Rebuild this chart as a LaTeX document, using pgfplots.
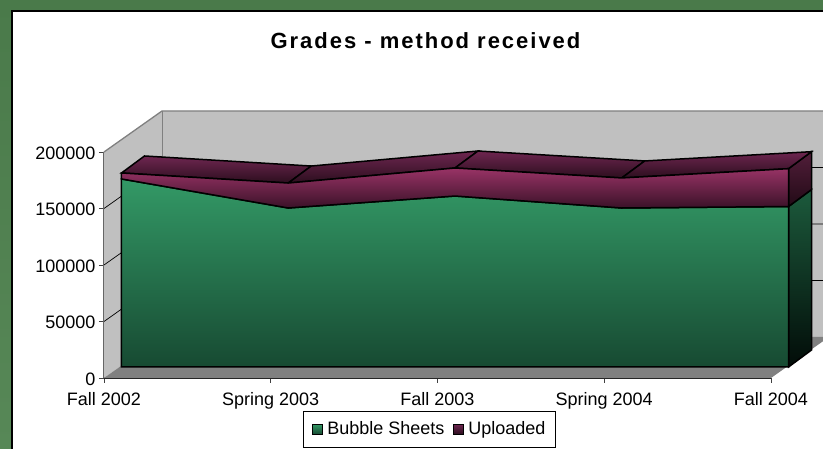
\documentclass[border=0pt]{standalone}
\usepackage{pgfplots}
\usepackage{pgfplotstable}
\usepackage{fontspec}
\setmainfont{Liberation Sans}
\pgfplotsset{compat=1.18}
\definecolor{bgtop}{HTML}{4A7A4A}
\definecolor{bgbot}{HTML}{578857}
\definecolor{wall}{HTML}{C0C0C0}
\definecolor{floorc}{HTML}{808080}
\definecolor{gtop}{HTML}{339966}
\definecolor{gbot}{HTML}{174A32}
\definecolor{ptop}{HTML}{993366}
\definecolor{pbot}{HTML}{3A1228}
\definecolor{ttop}{HTML}{6E2650}
\definecolor{tbot}{HTML}{2C0E1E}
\definecolor{stop}{HTML}{521E3A}
\definecolor{sbot}{HTML}{220A16}
\definecolor{gstop}{HTML}{1C5A3C}
\definecolor{gsbot}{HTML}{020C08}
% x = category, v = value, dx/dy = depth offset in the oblique projection (points)
\newcommand{\poly}[2]{\addplot[forget plot,#1] table[x expr=\thisrow{x}+\thisrow{dx}/166.75,y expr=\thisrow{v}+\thisrow{dy}*884.96,row sep=crcr]{x v dx dy\\ #2\\}--cycle;}
\newcommand{\oline}[2]{\addplot[forget plot,#1] table[x expr=\thisrow{x}+\thisrow{dx}/166.75,y expr=\thisrow{v}+\thisrow{dy}*884.96,row sep=crcr]{x v dx dy\\ #2\\};}
\begin{document}
\begin{tikzpicture}[x=1pt,y=1pt]
\path[use as bounding box,clip] (0pt,0pt) rectangle (823pt,449pt);
\shade[top color=bgtop,bottom color=bgbot] (0pt,0pt) rectangle (823pt,449pt);
\fill[white] (12pt,-2pt) rectangle (830pt,438pt);
\draw[black,line width=2pt] (12pt,-2pt)--(12pt,438pt)--(830pt,438pt);
\node[font=\bfseries\fontsize{22}{24}\selectfont,anchor=base] at (425.5pt,400pt) {\addfontfeature{LetterSpace=9}Grades - method received};
\begin{axis}[
  at={(104pt,71pt)},anchor=south west,scale only axis,width=667pt,height=226pt,
  xmin=0,xmax=4,ymin=0,ymax=200000,clip=false,
  axis x line*=bottom,axis y line*=left,
  x axis line style={draw=black!85,line width=1.5pt,-},
  y axis line style={draw=floorc!70!black,line width=1pt,-},
  xtick={0,1,2,3,4},xticklabels={Fall 2002,Spring 2003,Fall 2003,Spring 2004,Fall 2004},
  ytick={0,50000,100000,150000,200000},
  scaled y ticks=false,
  /pgf/number format/assume math mode=true,
  yticklabel={\pgfmathprintnumber[fixed,precision=0,set thousands separator={}]{\tick}},
  tick style={draw=black!75,line width=0.8pt},
  tick align=outside,major tick length=5pt,
  ticklabel style={font=\fontsize{18}{20}\selectfont},
  xticklabel style={yshift=-6pt},
  yticklabel style={yshift=-1pt},
  legend style={at={(0.488,-0.146)},anchor=north,draw=black,line width=0.8pt,
    font=\fontsize{18}{20}\selectfont,legend columns=2,
    inner xsep=8pt,inner ysep=8.5pt,
    /tikz/every even column/.append style={column sep=6pt}},
]
% walls and floor
\poly{fill=wall,draw=none}{0 0 0 0\\ 0 200000 0 0\\ 0 200000 58 41\\ 5 200000 58 41\\ 5 0 58 41\\ 0 0 58 41}
\poly{fill=floorc,draw=none}{0 0 0 0\\ 4 0 0 0\\ 4 0 58 41\\ 0 0 58 41}
% gridlines
\oline{draw=black,line width=0.7pt}{0 50000 0 0\\ 0 50000 58 41\\ 4.5 50000 58 41}
\oline{draw=black,line width=0.7pt}{0 100000 0 0\\ 0 100000 58 41\\ 4.5 100000 58 41}
\oline{draw=black,line width=0.7pt}{0 150000 0 0\\ 0 150000 58 41\\ 4.5 150000 58 41}
\oline{draw=floorc,line width=1.3pt}{0 200000 0 0\\ 0 200000 58 41\\ 4.5 200000 58 41}
\oline{draw=floorc,line width=1pt}{0 0 58 41\\ 0 200000 58 41}
% side faces at Fall 2004
\poly{draw=black,line width=1.5pt,top color=gstop,bottom color=gsbot}{4 0 17.5 11\\ 4 142000 17.5 11\\ 4 142000 40.5 28\\ 4 0 40.5 28}
\poly{draw=black,line width=1.5pt,top color=stop,bottom color=sbot}{4 142000 17.5 11\\ 4 175500 17.5 11\\ 4 175500 40.5 28\\ 4 142000 40.5 28}
% top faces of Uploaded
\poly{draw=black,line width=1.5pt,top color=ttop,bottom color=tbot}{0 171700 17.5 11\\ 1 162800 17.5 11\\ 1 162800 40.5 28\\ 0 171700 40.5 28}
\poly{draw=black,line width=1.5pt,top color=ttop,bottom color=tbot}{1 162800 17.5 11\\ 2 176100 17.5 11\\ 2 176100 40.5 28\\ 1 162800 40.5 28}
\poly{draw=black,line width=1.5pt,top color=ttop,bottom color=tbot}{2 176100 17.5 11\\ 3 167300 17.5 11\\ 3 167300 40.5 28\\ 2 176100 40.5 28}
\poly{draw=black,line width=1.5pt,top color=ttop,bottom color=tbot}{3 167300 17.5 11\\ 4 175500 17.5 11\\ 4 175500 40.5 28\\ 3 167300 40.5 28}
% front areas
\poly{draw=black,line width=1.5pt,top color=gtop,bottom color=gbot}{0 0 17.5 11\\ 0 166400 17.5 11\\ 1 140700 17.5 11\\ 2 151300 17.5 11\\ 3 140700 17.5 11\\ 4 142000 17.5 11\\ 4 0 17.5 11}
\poly{draw=black,line width=1.5pt,top color=ptop,bottom color=pbot}{0 166400 17.5 11\\ 0 171700 17.5 11\\ 1 162800 17.5 11\\ 2 176100 17.5 11\\ 3 167300 17.5 11\\ 4 175500 17.5 11\\ 4 142000 17.5 11\\ 3 140700 17.5 11\\ 2 151300 17.5 11\\ 1 140700 17.5 11}
\addlegendimage{legend image code/.code={\path (0pt,0pt) (13pt,0pt);\draw[black,line width=1pt,top color=gtop,bottom color=gbot] (0pt,-5pt) rectangle (10pt,5pt);}}
\addlegendentry{Bubble Sheets}
\addlegendimage{legend image code/.code={\path (0pt,0pt) (13pt,0pt);\draw[black,line width=1pt,top color=ttop,bottom color=tbot] (0pt,-5pt) rectangle (10pt,5pt);}}
\addlegendentry{Uploaded}
\end{axis}
\end{tikzpicture}
\end{document}
